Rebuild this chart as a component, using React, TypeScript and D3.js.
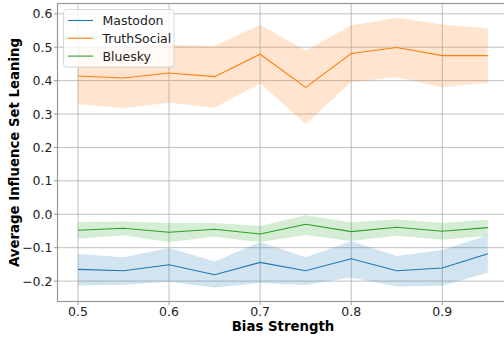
import React from "react";
import * as d3 from "d3";

const biasStrength = [0.5, 0.55, 0.6, 0.65, 0.7, 0.75, 0.8, 0.85, 0.9, 0.95];

const mastodonMean = [-0.165, -0.169, -0.151, -0.181, -0.144, -0.169, -0.133, -0.169, -0.161, -0.118];
const mastodonUpper = [-0.119, -0.129, -0.101, -0.141, -0.083, -0.129, -0.081, -0.125, -0.107, -0.062];
const mastodonLower = [-0.213, -0.211, -0.202, -0.219, -0.206, -0.212, -0.189, -0.216, -0.214, -0.175];

const truthMean = [0.414, 0.408, 0.423, 0.412, 0.479, 0.38, 0.481, 0.499, 0.475, 0.475];
const truthUpper = [0.498, 0.498, 0.508, 0.504, 0.567, 0.49, 0.565, 0.589, 0.568, 0.556];
const truthLower = [0.33, 0.318, 0.334, 0.319, 0.392, 0.27, 0.396, 0.41, 0.38, 0.394];

const blueskyMean = [-0.048, -0.042, -0.054, -0.045, -0.059, -0.03, -0.052, -0.039, -0.051, -0.04];
const blueskyUpper = [-0.023, -0.022, -0.026, -0.026, -0.035, -0.003, -0.024, -0.015, -0.026, -0.016];
const blueskyLower = [-0.073, -0.063, -0.083, -0.067, -0.083, -0.062, -0.08, -0.064, -0.076, -0.064];

const seriesNames = ["Mastodon", "TruthSocial", "Bluesky"];
const seriesColors = ["#1f77b4", "#ff7f0e", "#2ca02c"];

const xTicks = [0.5, 0.6, 0.7, 0.8, 0.9];
const yTicks = [-0.2, -0.1, 0.0, 0.1, 0.2, 0.3, 0.4, 0.5, 0.6];

const W = 504;
const H = 337;
const left = 57.5;
const right = 508.3;
const top = 3.5;
const bottom = 301.5;

const FONT = "DejaVu Sans, sans-serif";

export default function App() {
  const x = d3.scaleLinear().domain([0.4775, 0.9725]).range([left, right]);
  const y = d3.scaleLinear().domain([-0.2611, 0.6309]).range([bottom, top]);

  const series = [
    { mean: mastodonMean, up: mastodonUpper, lo: mastodonLower },
    { mean: truthMean, up: truthUpper, lo: truthLower },
    { mean: blueskyMean, up: blueskyUpper, lo: blueskyLower },
  ];

  const line = d3
    .line<number>()
    .x((_, i) => x(biasStrength[i]))
    .y((d) => y(d));

  const fmt = (v: number) => {
    const s = v.toFixed(1);
    return s.startsWith("-") ? "\u2212" + s.slice(1) : s;
  };

  return (
    <svg width={W} height={H} style={{ position: "absolute", left: 0, top: 0, background: "#fff" }}>
      <defs>
        <clipPath id="plot">
          <rect x={left} y={top} width={right - left} height={bottom - top} />
        </clipPath>
      </defs>
      {xTicks.map((t) => (
        <line key={"gx" + t} x1={x(t)} x2={x(t)} y1={top} y2={bottom} stroke="#b0b0b0" strokeWidth={0.8} />
      ))}
      {yTicks.map((t) => (
        <line key={"gy" + t} x1={left} x2={right} y1={y(t)} y2={y(t)} stroke="#b0b0b0" strokeWidth={0.8} />
      ))}
      <g clipPath="url(#plot)">
        {series.map((s, k) => {
          const area = d3
            .area<number>()
            .x((_, i) => x(biasStrength[i]))
            .y0((_, i) => y(s.lo[i]))
            .y1((_, i) => y(s.up[i]));
          return (
            <path key={"a" + k} d={area(s.mean) || ""} fill={seriesColors[k]} fillOpacity={0.2} stroke="none" />
          );
        })}
        {series.map((s, k) => (
          <path key={"l" + k} d={line(s.mean) || ""} fill="none" stroke={seriesColors[k]} strokeWidth={1.1} />
        ))}
      </g>
      <rect x={left} y={top} width={right - left} height={bottom - top} fill="none" stroke="#999" strokeWidth={1.2} />
      {xTicks.map((t) => (
        <g key={"tx" + t}>
          <line x1={x(t)} x2={x(t)} y1={bottom} y2={bottom + 3.5} stroke="#999" strokeWidth={1} />
          <text x={x(t)} y={bottom + 14} textAnchor="middle" fontFamily={FONT} fontSize={12.5} fill="#222">
            {t.toFixed(1)}
          </text>
        </g>
      ))}
      {yTicks.map((t) => (
        <g key={"ty" + t}>
          <line x1={left - 3.5} x2={left} y1={y(t)} y2={y(t)} stroke="#999" strokeWidth={1} />
          <text x={left - 5} y={y(t) + 4.5} textAnchor="end" fontFamily={FONT} fontSize={12.5} fill="#222">
            {fmt(t)}
          </text>
        </g>
      ))}
      <text x={283} y={330.5} textAnchor="middle" fontFamily={FONT} fontSize={13.3} fontWeight="bold" fill="#000">
        Bias Strength
      </text>
      <text
        transform={`translate(18.5,${(top + bottom) / 2}) rotate(-90)`}
        textAnchor="middle"
        fontFamily={FONT}
        fontSize={13.3}
        fontWeight="bold"
        fill="#000"
      >
        Average Influence Set Leaning
      </text>
      <rect x={63.5} y={9.5} width={110.5} height={57.5} rx={3} fill="#fff" fillOpacity={0.8} stroke="#ccc" strokeWidth={0.8} />
      {seriesNames.map((n, i) => (
        <g key={"lg" + n}>
          <line x1={68} x2={93} y1={20.5 + i * 17.8} y2={20.5 + i * 17.8} stroke={seriesColors[i]} strokeWidth={1.1} />
          <text x={102.5} y={20.5 + i * 17.8 + 4.5} fontFamily={FONT} fontSize={12.5} fill="#222">
            {n}
          </text>
        </g>
      ))}
    </svg>
  );
}
